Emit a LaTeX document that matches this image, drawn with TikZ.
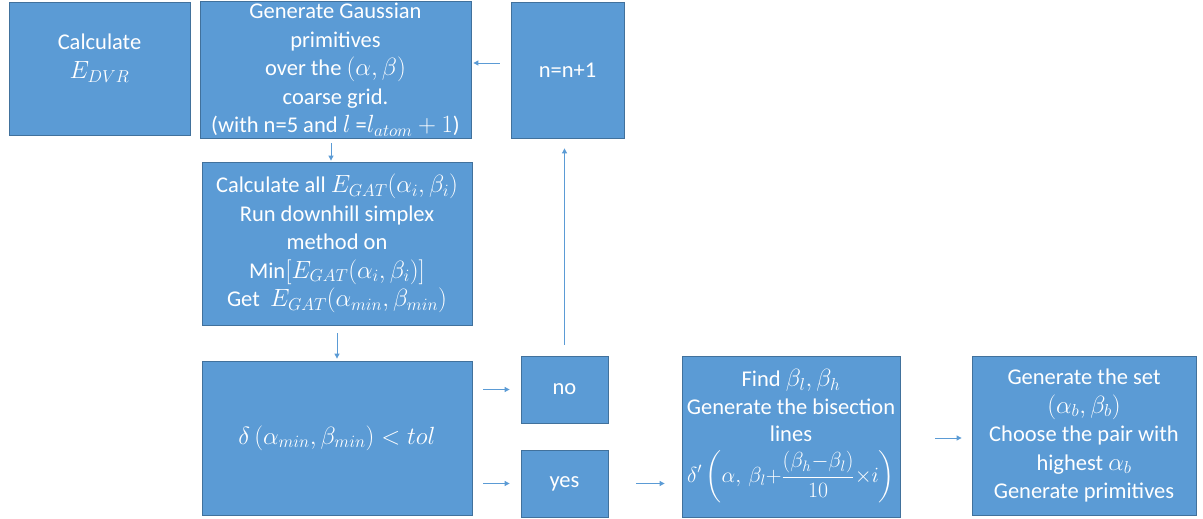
\documentclass[tikz,border=0pt]{standalone}
\usepackage{amsmath}
\usepackage{graphicx}
\usepackage{fontspec}
\setmainfont{Carlito}
\usetikzlibrary{arrows.meta}
\definecolor{boxfill}{HTML}{5B9BD5}
\definecolor{boxedge}{HTML}{41719C}
\definecolor{linkcol}{HTML}{5B9BD5}
% formulas are set a little larger than the surrounding text
\newcommand\mth[1]{{\fontsize{25.5}{28.5}\selectfont$#1$}}
\tikzset{
  blk/.style={draw=boxedge, fill=boxfill, text=white, line width=0.8pt,
    align=center, inner sep=2pt, font=\fontsize{22.5}{28.5}\selectfont},
  arr/.style={draw=linkcol, line width=0.9pt,
    -{Triangle[length=5pt,width=5pt]}}
}
\begin{document}
\begin{tikzpicture}[x=1pt,y=-1pt]
\useasboundingbox (0,0) rectangle (1203,519);

% process blocks
\node[blk, minimum width=181pt, minimum height=133pt] (dvr) at (99.5,68.5)
  {Calculate\\[0pt] \mth{E_{DVR}}\\[-4pt]\mbox{}};
\node[blk, minimum width=271pt, minimum height=136pt] (gen) at (335.5,70)
  {Generate Gaussian\\ primitives\\ over the \mth{(\alpha,\beta)}\\ coarse grid.\\
   (with n=5 and \mth{l} =\mth{l_{atom}+1})};
\node[blk, minimum width=113pt, minimum height=136pt] (inc) at (567.5,70)
  {n=n+1};
\node[blk, minimum width=270pt, minimum height=163pt] (calc) at (337,243.5)
  {Calculate all \mth{E_{GAT}(\alpha_i,\beta_i)}\\ Run downhill simplex\\ method on\\
   Min\mth{[E_{GAT}(\alpha_i,\beta_i)]}\\ Get\ \ \mth{E_{GAT}(\alpha_{min},\beta_{min})}};
\node[blk, minimum width=270pt, minimum height=154pt] (dlt) at (337,438)
  {\mth{\delta\,(\alpha_{min},\beta_{min}) < tol}};
\node[blk, minimum width=87pt, minimum height=67pt] (no) at (564.5,389.5) {no};
\node[blk, minimum width=87pt, minimum height=67pt] (yes) at (564.5,483.5) {yes};
\node[blk, minimum width=218pt, minimum height=161pt, inner sep=0pt] (find) at (791,436.5)
  {Find \mth{\beta_l,\beta_h}\\[-1pt] Generate the bisection\\[-1pt] lines\\[8pt]
   \resizebox{208pt}{!}{%
   $\displaystyle\delta'\left(\alpha,\,\beta_l{+}\frac{(\beta_h{-}\beta_l)}{10}{\times} i\right)$}};
\node[blk, minimum width=224pt, minimum height=159pt] (set) at (1084,435.5)
  {Generate the set\\ \mth{(\alpha_b,\beta_b)}\\ Choose the pair with\\
   highest \mth{\alpha_b}\\ Generate primitives};

% flow
\draw[arr, shorten <=4pt, shorten >=1pt]
  ([xshift=-4.5pt]gen.south) -- ([xshift=-4.5pt]gen.south |- calc.north);
\draw[arr, shorten <=8pt, shorten >=2pt] (calc.south) -- (dlt.north);
\draw[arr, shorten <=11pt, shorten >=11pt] (dlt.east |- no.west) -- (no.west);
\draw[arr, shorten <=11pt, shorten >=11pt] (dlt.east |- yes.west) -- (yes.west);
\draw[arr, shorten <=28pt, shorten >=17pt] (yes.east) -- (yes.east -| find.west);
\draw[arr, shorten <=35pt, shorten >=10pt] ([yshift=-1.5pt]find.east) -- ([yshift=-1.5pt]find.east -| set.west);
\draw[arr, shorten <=11pt, shorten >=10pt] (no.north) -- (no.north |- inc.south);
\draw[arr, shorten <=11pt, shorten >=2pt]
  ([yshift=7pt]inc.west) -- ([yshift=7pt]inc.west -| gen.east);
\end{tikzpicture}
\end{document}
